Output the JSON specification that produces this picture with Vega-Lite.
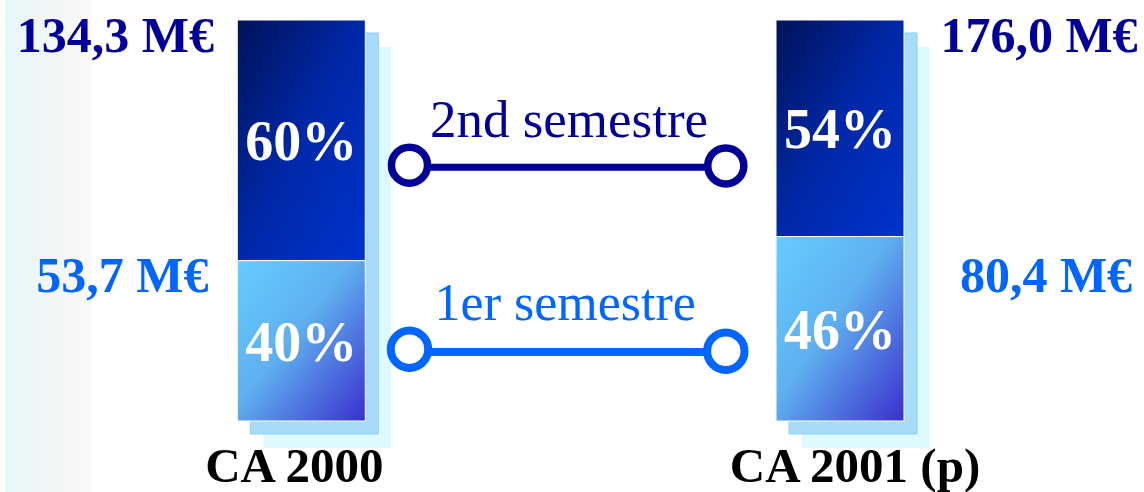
{
  "$schema": "https://vega.github.io/schema/vega-lite/v6.json",
  "width": 1144,
  "height": 492,
  "padding": 0,
  "autosize": {"type": "none"},
  "background": "white",
  "config": {
    "view": {"stroke": null},
    "axis": {"disable": true},
    "legend": {"disable": true},
    "text": {"font": "Liberation Serif"}
  },
  "datasets": {
    "segments": [
      {"year": "CA 2000", "annee": 2000, "semestre": "1er semestre", "rank": 1, "pct": 40, "label": "40%"},
      {"year": "CA 2000", "annee": 2000, "semestre": "2nd semestre", "rank": 2, "pct": 60, "label": "60%"},
      {"year": "CA 2001 (p)", "annee": 2001, "semestre": "1er semestre", "rank": 1, "pct": 46, "label": "46%"},
      {"year": "CA 2001 (p)", "annee": 2001, "semestre": "2nd semestre", "rank": 2, "pct": 54, "label": "54%"}
    ],
    "totals": [
      {"year": "CA 2000", "annee": 2000, "total": "134,3 M€", "s1": "53,7 M€"},
      {"year": "CA 2001 (p)", "annee": 2001, "total": "176,0 M€", "s1": "80,4 M€"}
    ],
    "legende": [
      {"semestre": "2nd semestre"},
      {"semestre": "1er semestre"}
    ]
  },
  "layer": [
    {
      "data": {"name": "totals"},
      "transform": [{"filter": "datum.annee === 2000"}],
      "mark": {"type": "rect", "fill": {"gradient": "linear", "x1": 0, "y1": 0, "x2": 1, "y2": 0, "stops": [{"offset": 0, "color": "#e6f7f7"}, {"offset": 0.6, "color": "#f3f6f6"}, {"offset": 1, "color": "#fcf8f8"}]}},
      "encoding": {
        "x": {"datum": 1999.45, "type": "quantitative", "scale": {"domain": [1999.45, 2001.555], "nice": false, "zero": false}},
        "x2": {"datum": 1999.612},
        "y": {"datum": -0.17706, "type": "quantitative", "scale": {"domain": [-0.17706, 1.04988], "nice": false, "zero": false}},
        "y2": {"datum": 1.04988}
      }
    },
    {
      "data": {"name": "totals"},
      "mark": {"type": "bar", "width": 128, "fill": "#dcfaff", "xOffset": 26, "yOffset": 27, "y2Offset": 27},
      "encoding": {
        "x": {"field": "annee", "type": "quantitative"},
        "y": {"datum": 1, "type": "quantitative"},
        "y2": {"datum": 0}
      }
    },
    {
      "data": {"name": "totals"},
      "mark": {"type": "bar", "width": 128, "fill": "#a6dcf8", "stroke": "#8ccff2", "strokeWidth": 1, "xOffset": 13, "yOffset": 13, "y2Offset": 13},
      "encoding": {
        "x": {"field": "annee", "type": "quantitative"},
        "y": {"datum": 1, "type": "quantitative"},
        "y2": {"datum": 0}
      }
    },
    {
      "data": {"name": "segments"},
      "transform": [
        {"stack": "pct", "groupby": ["annee"], "sort": [{"field": "rank", "order": "ascending"}], "offset": "normalize", "as": ["y0", "y1"]},
        {"filter": "datum.semestre === '1er semestre'"}
      ],
      "mark": {"type": "bar", "width": 128, "stroke": "#ffffff", "strokeWidth": 1, "fill": {"gradient": "linear", "x1": 0, "y1": 0, "x2": 1, "y2": 1, "stops": [{"offset": 0, "color": "#66ccff"}, {"offset": 0.45, "color": "#5fb0f0"}, {"offset": 1, "color": "#3a2fcc"}]}},
      "encoding": {
        "x": {"field": "annee", "type": "quantitative"},
        "y": {"field": "y1", "type": "quantitative"},
        "y2": {"field": "y0"}
      }
    },
    {
      "data": {"name": "segments"},
      "transform": [
        {"stack": "pct", "groupby": ["annee"], "sort": [{"field": "rank", "order": "ascending"}], "offset": "normalize", "as": ["y0", "y1"]},
        {"filter": "datum.semestre === '2nd semestre'"}
      ],
      "mark": {"type": "bar", "width": 128, "stroke": "#ffffff", "strokeWidth": 1, "fill": {"gradient": "linear", "x1": 0, "y1": 0, "x2": 1, "y2": 1, "stops": [{"offset": 0, "color": "#001258"}, {"offset": 0.5, "color": "#0028a8"}, {"offset": 1, "color": "#0033cc"}]}},
      "encoding": {
        "x": {"field": "annee", "type": "quantitative"},
        "y": {"field": "y1", "type": "quantitative"},
        "y2": {"field": "y0"}
      }
    },
    {
      "data": {"name": "segments"},
      "mark": {"type": "text", "fontSize": 56, "fontWeight": "bold", "color": "#ffffff", "baseline": "alphabetic", "align": "center", "dy": 20},
      "encoding": {
        "x": {"field": "annee", "type": "quantitative"},
        "y": {"field": "pct", "type": "quantitative", "stack": "normalize", "bandPosition": 0.5},
        "order": {"field": "rank", "type": "quantitative"},
        "detail": {"field": "semestre"},
        "text": {"field": "label"}
      }
    },
    {
      "data": {"name": "totals"},
      "transform": [{"filter": "datum.annee === 2000"}],
      "mark": {"type": "text", "fontSize": 49, "fontWeight": "bold", "color": "#000000", "baseline": "alphabetic", "align": "center", "dx": -7},
      "encoding": {
        "x": {"field": "annee", "type": "quantitative"},
        "y": {"datum": -0.152, "type": "quantitative"},
        "text": {"field": "year"}
      }
    },
    {
      "data": {"name": "totals"},
      "transform": [{"filter": "datum.annee === 2001"}],
      "mark": {"type": "text", "fontSize": 49, "fontWeight": "bold", "color": "#000000", "baseline": "alphabetic", "align": "center", "dx": 15},
      "encoding": {
        "x": {"field": "annee", "type": "quantitative"},
        "y": {"datum": -0.152, "type": "quantitative"},
        "text": {"field": "year"}
      }
    },
    {
      "data": {"name": "totals"},
      "transform": [{"filter": "datum.annee === 2000"}],
      "mark": {"type": "text", "fontSize": 50, "fontWeight": "bold", "color": "#000099", "baseline": "alphabetic", "align": "center", "dx": -186},
      "encoding": {
        "x": {"field": "annee", "type": "quantitative"},
        "y": {"datum": 0.92, "type": "quantitative"},
        "text": {"field": "total"}
      }
    },
    {
      "data": {"name": "totals"},
      "transform": [{"filter": "datum.annee === 2000"}],
      "mark": {"type": "text", "fontSize": 50, "fontWeight": "bold", "color": "#0066ff", "baseline": "alphabetic", "align": "center", "dx": -179},
      "encoding": {
        "x": {"field": "annee", "type": "quantitative"},
        "y": {"datum": 0.322, "type": "quantitative"},
        "text": {"field": "s1"}
      }
    },
    {
      "data": {"name": "totals"},
      "transform": [{"filter": "datum.annee === 2001"}],
      "mark": {"type": "text", "fontSize": 50, "fontWeight": "bold", "color": "#000099", "baseline": "alphabetic", "align": "center", "dx": 199},
      "encoding": {
        "x": {"field": "annee", "type": "quantitative"},
        "y": {"datum": 0.92, "type": "quantitative"},
        "text": {"field": "total"}
      }
    },
    {
      "data": {"name": "totals"},
      "transform": [{"filter": "datum.annee === 2001"}],
      "mark": {"type": "text", "fontSize": 50, "fontWeight": "bold", "color": "#0066ff", "baseline": "alphabetic", "align": "center", "dx": 206},
      "encoding": {
        "x": {"field": "annee", "type": "quantitative"},
        "y": {"datum": 0.322, "type": "quantitative"},
        "text": {"field": "s1"}
      }
    },
    {
      "data": {"name": "legende"},
      "transform": [{"filter": "datum.semestre === '2nd semestre'"}],
      "mark": {"type": "rule", "color": "#000099", "strokeWidth": 7},
      "encoding": {
        "x": {"datum": 2000.2008, "type": "quantitative"},
        "x2": {"datum": 2000.788},
        "y": {"datum": 0.633, "type": "quantitative"}
      }
    },
    {
      "data": {"name": "legende"},
      "transform": [{"filter": "datum.semestre === '1er semestre'"}],
      "mark": {"type": "rule", "color": "#0066ff", "strokeWidth": 8},
      "encoding": {
        "x": {"datum": 2000.2008, "type": "quantitative"},
        "x2": {"datum": 2000.788},
        "y": {"datum": 0.172, "type": "quantitative"}
      }
    },
    {
      "data": {"name": "legende"},
      "transform": [{"filter": "datum.semestre === '2nd semestre'"}],
      "mark": {"type": "point", "shape": "circle", "filled": true, "fill": "#ffffff", "stroke": "#000099", "strokeWidth": 7.5, "size": 1300, "opacity": 1},
      "encoding": {
        "x": {"datum": 2000.2008, "type": "quantitative"},
        "y": {"datum": 0.638, "type": "quantitative"}
      }
    },
    {
      "data": {"name": "legende"},
      "transform": [{"filter": "datum.semestre === '2nd semestre'"}],
      "mark": {"type": "point", "shape": "circle", "filled": true, "fill": "#ffffff", "stroke": "#000099", "strokeWidth": 7.5, "size": 1300, "opacity": 1},
      "encoding": {
        "x": {"datum": 2000.788, "type": "quantitative"},
        "y": {"datum": 0.636, "type": "quantitative"}
      }
    },
    {
      "data": {"name": "legende"},
      "transform": [{"filter": "datum.semestre === '1er semestre'"}],
      "mark": {"type": "point", "shape": "circle", "filled": true, "fill": "#ffffff", "stroke": "#0066ff", "strokeWidth": 8, "size": 1400, "opacity": 1},
      "encoding": {
        "x": {"datum": 2000.2008, "type": "quantitative"},
        "y": {"datum": 0.179, "type": "quantitative"}
      }
    },
    {
      "data": {"name": "legende"},
      "transform": [{"filter": "datum.semestre === '1er semestre'"}],
      "mark": {"type": "point", "shape": "circle", "filled": true, "fill": "#ffffff", "stroke": "#0066ff", "strokeWidth": 8, "size": 1400, "opacity": 1},
      "encoding": {
        "x": {"datum": 2000.788, "type": "quantitative"},
        "y": {"datum": 0.174, "type": "quantitative"}
      }
    },
    {
      "data": {"name": "legende"},
      "transform": [{"filter": "datum.semestre === '2nd semestre'"}],
      "mark": {"type": "text", "fontSize": 53, "color": "#000099", "baseline": "alphabetic", "align": "center"},
      "encoding": {
        "x": {"datum": 2000.497, "type": "quantitative"},
        "y": {"datum": 0.708, "type": "quantitative"},
        "text": {"field": "semestre"}
      }
    },
    {
      "data": {"name": "legende"},
      "transform": [{"filter": "datum.semestre === '1er semestre'"}],
      "mark": {"type": "text", "fontSize": 52, "color": "#0066ff", "baseline": "alphabetic", "align": "center"},
      "encoding": {
        "x": {"datum": 2000.49, "type": "quantitative"},
        "y": {"datum": 0.252, "type": "quantitative"},
        "text": {"field": "semestre"}
      }
    }
  ]
}
